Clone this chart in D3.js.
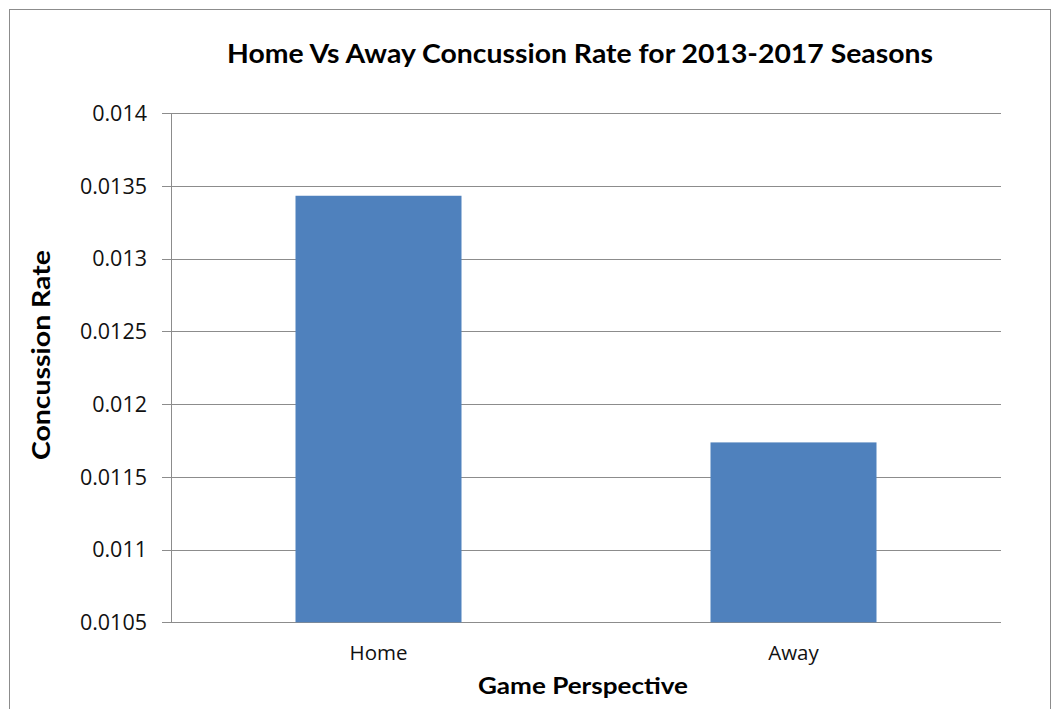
<!DOCTYPE html>
<html>
<head>
<meta charset="utf-8">
<script src="https://cdn.jsdelivr.net/npm/d3@7"></script>
<style>
  html, body { margin: 0; padding: 0; background: #fff; }
  svg { display: block; }
  text { font-family: Lato, "Open Sans", "DejaVu Sans", sans-serif; fill: #000; }
  text.lbl { font-family: "Open Sans", Lato, sans-serif; fill: #111; }
</style>
</head>
<body>
<svg id="chart" width="1055" height="709"></svg>
<script>
const categories = ["Home", "Away"];
const values = [0.013433, 0.011737];
const yTicks = [0.0105, 0.011, 0.0115, 0.012, 0.0125, 0.013, 0.0135, 0.014];
const yTickLabels = ["0.0105", "0.011", "0.0115", "0.012", "0.0125", "0.013", "0.0135", "0.014"];
const titleText = "Home Vs Away Concussion Rate for 2013-2017 Seasons";
const xTitle = "Game Perspective";
const yTitle = "Concussion Rate";

const svg = d3.select("#chart");
const plotLeft = 171, plotRight = 1001, plotTop = 113.3, plotBottom = 622.3;

// outer chart border
svg.append("rect")
  .attr("x", 9.5).attr("y", 9.5)
  .attr("width", 1041).attr("height", 720)
  .attr("fill", "#fff").attr("stroke", "#8c8c8c").attr("stroke-width", 1);

const x = d3.scaleBand().domain(categories).range([plotLeft, plotRight])
  .paddingInner(0.6).paddingOuter(0.3);
const y = d3.scaleLinear().domain([0.0105, 0.014]).range([plotBottom, plotTop]);

// gridlines
svg.append("g").selectAll("line").data(yTicks).join("line")
  .attr("x1", plotLeft - 9).attr("x2", plotRight)
  .attr("y1", d => Math.round(y(d)) + 0.5).attr("y2", d => Math.round(y(d)) + 0.5)
  .attr("stroke", "#8c8c8c").attr("stroke-width", 1);

// y axis line
svg.append("line")
  .attr("x1", plotLeft + 0.5).attr("x2", plotLeft + 0.5)
  .attr("y1", plotTop).attr("y2", plotBottom)
  .attr("stroke", "#8c8c8c");

// bars
svg.append("g").selectAll("rect").data(values).join("rect")
  .attr("x", (d, i) => x(categories[i]))
  .attr("width", x.bandwidth())
  .attr("y", d => y(d))
  .attr("height", d => y(0.0105) - y(d))
  .attr("fill", "#4F81BD");

// y tick labels
svg.append("g").selectAll("text").data(yTicks).join("text")
  .attr("class", "lbl")
  .attr("x", 147)
  .attr("y", d => y(d))
  .attr("dy", "0.36em")
  .attr("text-anchor", "end")
  .attr("font-size", 21.5)
  .text((d, i) => yTickLabels[i]);

// x category labels
svg.append("g").selectAll("text").data(categories).join("text")
  .attr("class", "lbl")
  .attr("x", d => x(d) + x.bandwidth() / 2)
  .attr("y", 660)
  .attr("text-anchor", "middle")
  .attr("font-size", 20.5)
  .text(d => d);

// title
svg.append("text")
  .attr("x", 580).attr("y", 63)
  .attr("text-anchor", "middle")
  .attr("font-size", 26).attr("font-weight", "bold")
  .attr("textLength", 706).attr("lengthAdjust", "spacingAndGlyphs")
  .text(titleText);

// x title
svg.append("text")
  .attr("x", 583).attr("y", 694)
  .attr("text-anchor", "middle")
  .attr("font-size", 22).attr("font-weight", "bold")
  .attr("textLength", 210).attr("lengthAdjust", "spacingAndGlyphs")
  .text(xTitle);

// y title
svg.append("text")
  .attr("transform", "translate(50,355) rotate(-90)")
  .attr("text-anchor", "middle")
  .attr("font-size", 25).attr("font-weight", "bold")
  .attr("textLength", 210).attr("lengthAdjust", "spacingAndGlyphs")
  .text(yTitle);
</script>
</body>
</html>
